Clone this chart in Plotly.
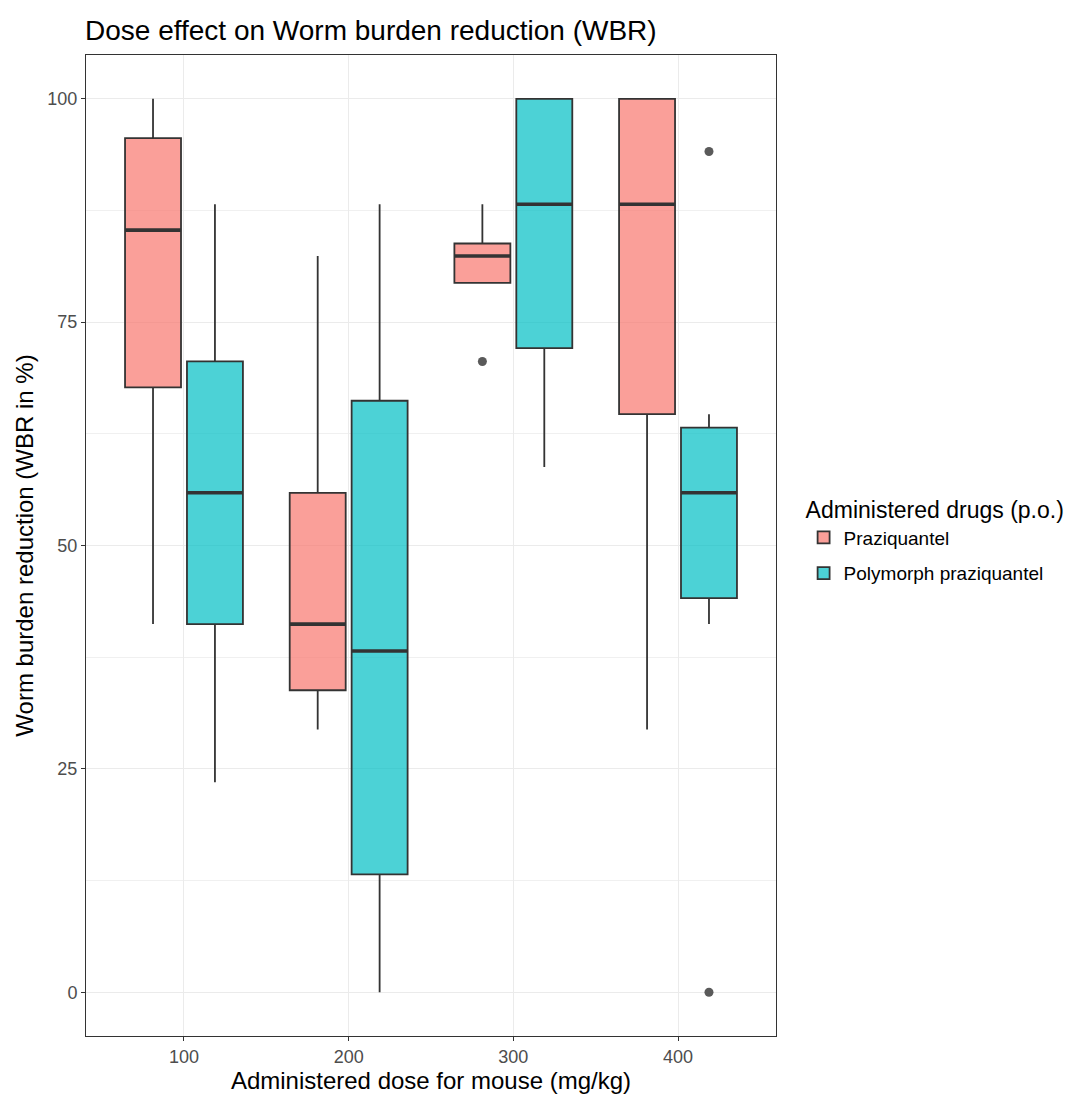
import plotly.graph_objects as go

doses = [100, 200, 300, 400]
drugs = ["Praziquantel", "Polymorph praziquantel"]

# Box statistics (WBR in %)
pzq_lower = [41.2, 29.4, 79.4, 29.4]
pzq_q1 = [67.7, 33.8, 79.4, 64.7]
pzq_median = [85.3, 41.2, 82.4, 88.2]
pzq_q3 = [95.6, 55.9, 83.8, 100.0]
pzq_upper = [100.0, 82.4, 88.2, 100.0]
pzq_out_dose = [300]
pzq_out_val = [70.6]

poly_lower = [23.5, 0.0, 58.8, 41.2]
poly_q1 = [41.2, 13.2, 72.1, 44.1]
poly_median = [55.9, 38.2, 88.2, 55.9]
poly_q3 = [70.6, 66.2, 100.0, 63.2]
poly_upper = [88.2, 88.2, 100.0, 64.7]
poly_out_dose = [400, 400]
poly_out_val = [94.1, 0.0]

fills = ["rgba(248,118,109,0.7)", "rgba(0,191,196,0.7)"]
line_col = "#333333"
BOXGAP = 0.248
BOXGROUPGAP = 0.096

stats = [
    (pzq_lower, pzq_q1, pzq_median, pzq_q3, pzq_upper, pzq_out_dose, pzq_out_val),
    (poly_lower, poly_q1, poly_median, poly_q3, poly_upper, poly_out_dose, poly_out_val),
]

fig = go.Figure()
for i, (name, st) in enumerate(zip(drugs, stats)):
    lo, q1, med, q3, up, od, ov = st
    fig.add_trace(go.Box(
        name=name, x=doses,
        lowerfence=lo, q1=q1, median=med, q3=q3, upperfence=up,
        boxpoints=False,
        fillcolor=fills[i],
        line=dict(color=line_col, width=1.8),
        whiskerwidth=0,
        offsetgroup=str(i), legendgroup=str(i),
    ))
    # thicker median line overlay
    fig.add_trace(go.Box(
        name=name, x=doses, lowerfence=med, q1=med, median=med, q3=med, upperfence=med,
        fillcolor="rgba(0,0,0,0)", line=dict(color=line_col, width=3.6),
        whiskerwidth=0, boxpoints=False,
        offsetgroup=str(i), showlegend=False, hoverinfo="skip",
    ))

# outliers, placed at the dodged box centres (dodge derived from box gap settings)
dodge = 25 * (1 - BOXGAP)
for i, st in enumerate(stats):
    od, ov = st[5], st[6]
    sign = -1 if i == 0 else 1
    fig.add_trace(go.Scatter(
        x=[d + sign * dodge for d in od], y=ov, mode="markers",
        marker=dict(color="#5a5a5a", size=9),
        showlegend=False, hoverinfo="y",
    ))

font_family = "Liberation Sans, Arial, sans-serif"
fig.update_layout(
    width=1085, height=1097,
    margin=dict(l=86, r=309, t=55, b=59),
    paper_bgcolor="white", plot_bgcolor="white",
    boxmode="group", boxgap=BOXGAP, boxgroupgap=BOXGROUPGAP,
    font=dict(family=font_family, color="#000000"),
    title=dict(text="Dose effect on Worm burden reduction (WBR)",
               x=85 / 1085, xanchor="left", xref="container",
               y=1 - 30 / 1097, yanchor="middle",
               font=dict(size=28, color="#000000")),
    legend=dict(
        title=dict(text="Administered drugs (p.o.)", font=dict(size=23)),
        x=1.04, xanchor="left", y=0.505, yanchor="middle",
        font=dict(size=19), tracegroupgap=8,
        bgcolor="rgba(0,0,0,0)",
    ),
    showlegend=True,
)
fig.update_xaxes(
    range=[40.5, 459.5], tickvals=doses, ticktext=[str(d) for d in doses],
    showgrid=True, gridcolor="#EBEBEB", gridwidth=1.2,
    showline=True, mirror=True, linecolor="#333333", linewidth=1,
    ticks="outside", ticklen=4, tickcolor="#333333", zeroline=False,
    tickfont=dict(size=18, color="#4D4D4D"),
    title=dict(text="Administered dose for mouse (mg/kg)", font=dict(size=24), standoff=2),
)
fig.update_yaxes(
    range=[-4.9, 104.9], tickvals=[0, 25, 50, 75, 100],
    showgrid=True, gridcolor="#EBEBEB", gridwidth=1.2,
    minor=dict(tickvals=[12.5, 37.5, 62.5, 87.5], showgrid=True,
               gridcolor="#F0F0F0", gridwidth=0.7, ticks=""),
    showline=True, mirror=True, linecolor="#333333", linewidth=1,
    ticks="outside", ticklen=4, tickcolor="#333333", zeroline=False,
    tickfont=dict(size=18, color="#4D4D4D"),
    title=dict(text="Worm burden reduction (WBR in %)", font=dict(size=24), standoff=6),
)

fig.write_html("out.html")
